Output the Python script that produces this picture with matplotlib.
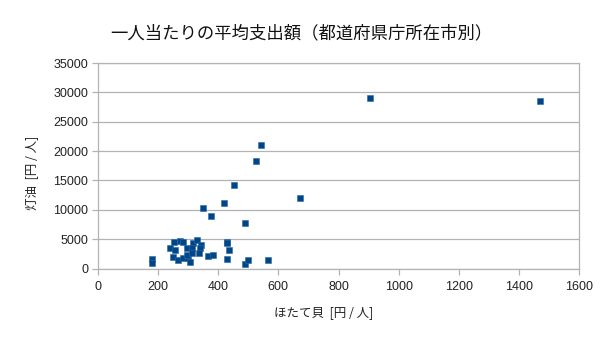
import matplotlib
matplotlib.use("Agg")
import matplotlib.pyplot as plt
from matplotlib.ticker import MultipleLocator

plt.rcParams['font.family'] = ['Liberation Sans', 'Noto Sans CJK JP', 'DejaVu Sans']

# Per-capita spending by prefectural capital: scallops (x) vs. kerosene (y), yen/person
scallops = [905, 1470, 542, 526, 452, 672, 349, 419, 376, 489,
            254, 273, 284, 317, 328, 343, 240, 256, 295, 314,
            339, 428, 430, 437, 250, 267, 284, 300, 306, 295,
            367, 384, 428, 489, 500, 565, 180, 180, 337, 312]
kerosene = [29000, 28500, 21000, 18300, 14200, 12000, 10300, 11100, 8900, 7750,
            4460, 4680, 4560, 4390, 4850, 4000, 3440, 3150, 3440, 3440,
            3440, 4560, 4290, 3150, 2010, 1450, 1740, 1740, 1160, 2300,
            2130, 2300, 1620, 720, 1450, 1400, 1620, 890, 2700, 2590]

title = "一人当たりの平均支出額（都道府県庁所在市別）"
xlabel = "ほたて貝  [円 / 人]"
ylabel = "灯油  [円 / 人]"

fig = plt.figure(figsize=(6.05, 3.4), dpi=100)
ax = fig.add_axes([98 / 605, 1 - 268.5 / 340, (579 - 98) / 605, (268.5 - 63) / 340])

ax.scatter(scallops, kerosene, marker='s', s=24, color='#004586',
           edgecolors='#2a6aa8', linewidths=0.4, zorder=3, clip_on=False)

ax.set_xlim(0, 1600)
ax.set_ylim(0, 35000)
ax.xaxis.set_major_locator(MultipleLocator(200))
ax.yaxis.set_major_locator(MultipleLocator(5000))

grid_c = '#b3b3b3'
ax.grid(axis='y', color=grid_c, linewidth=0.9)
ax.set_axisbelow(True)
for s in ax.spines.values():
    s.set_color(grid_c)
    s.set_linewidth(0.9)
ax.tick_params(axis='both', colors=grid_c, length=4, width=0.9, direction='out',
               labelcolor='#222222', labelsize=9)
ax.tick_params(axis='x', pad=5)
ax.tick_params(axis='y', pad=3)

cjk = ['Noto Sans CJK JP', 'DejaVu Sans']
fig.text(301 / 605, 1 - 33 / 340, title, ha='center', va='center',
         fontsize=12.5, family=cjk, color='#111111')
fig.text(324 / 605, 1 - 313 / 340, xlabel, ha='center', va='center',
         fontsize=9, family=cjk, color='#222222')
fig.text(32 / 605, 1 - 173 / 340, ylabel, ha='center', va='center',
         rotation=90, fontsize=9, family=cjk, color='#222222')

fig.savefig('out.png', dpi=100)
